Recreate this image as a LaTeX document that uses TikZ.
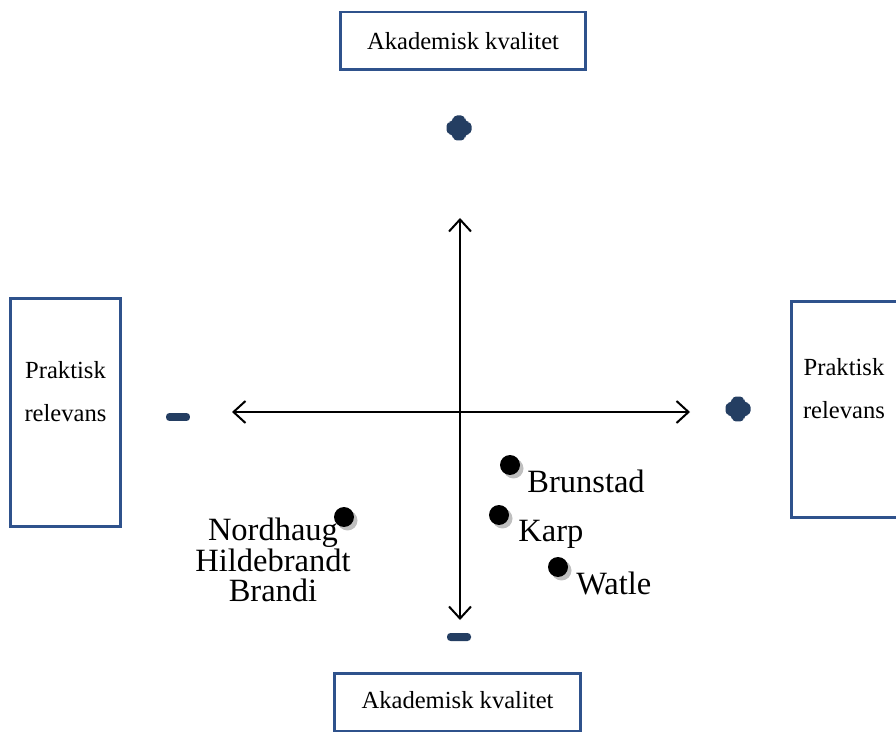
\documentclass[tikz,border=0pt]{standalone}
\usepackage{fontspec}
\setmainfont{Liberation Serif}
\usepackage{tikz}
\usetikzlibrary{arrows.meta, positioning, shadows}

\definecolor{boxblue}{RGB}{47,82,140}
\definecolor{signblue}{RGB}{36,62,98}

\begin{document}
\begin{tikzpicture}[x=0.02cm, y=0.02cm,
    axisbox/.style={rectangle, draw=boxblue, line width=1.7pt, fill=white, inner sep=0pt},
    boxtext/.style={align=center, font=\fontsize{14}{24.4}\selectfont},
    plussign/.style={rectangle, minimum size=0.6cm, inner sep=0pt,
        path picture={
            \fill[signblue, rounded corners=0.08cm]
                ([shift={(-0.12cm,-0.25cm)}]path picture bounding box.center) -- ++(0.24cm,0) -- ++(0,0.13cm)
                -- ++(0.13cm,0) -- ++(0,0.24cm) -- ++(-0.13cm,0) -- ++(0,0.13cm) -- ++(-0.24cm,0)
                -- ++(0,-0.13cm) -- ++(-0.13cm,0) -- ++(0,-0.24cm) -- ++(0.13cm,0) -- cycle;
        }},
    minussign/.style={rectangle, minimum width=0.6cm, minimum height=0.3cm, inner sep=0pt,
        path picture={
            \fill[signblue, rounded corners=0.07cm]
                ([shift={(-0.24cm,-0.08cm)}]path picture bounding box.center) rectangle ++(0.48cm,0.16cm);
        }},
    axis/.style={line width=1.15pt, {Straight Barb[length=2.4mm, width=4.4mm]}-{Straight Barb[length=2.4mm, width=4.4mm]}},
    dot/.style={circle, fill=black, minimum size=0.4cm, inner sep=0pt,
        drop shadow={shadow xshift=0.07cm, shadow yshift=-0.07cm, fill=gray!50, opacity=1}},
    personlabel/.style={font=\fontsize{18.5}{16.6}\selectfont, inner sep=0pt}]

    % Canvas size of the reference
    \useasboundingbox (0,0) rectangle (896,731);
    \clip (0,0) rectangle (896,731);

    % Boxes at the four ends of the axes
    \node[axisbox, minimum width=4.92cm, minimum height=1.16cm] (topbox) at (463,690) {};
    \node[boxtext] (toptext) at (topbox.center) {Akademisk kvalitet};

    \node[axisbox, minimum width=4.94cm, minimum height=1.16cm] (botbox) at (457.5,29) {};
    \node[boxtext] (bottext) at ([yshift=0.04cm]botbox.center) {Akademisk kvalitet};

    \node[axisbox, minimum width=2.22cm, minimum height=4.58cm] (leftbox) at (65.5,318.5) {};
    \node[boxtext] (lefttext) at ([yshift=0.42cm]leftbox.center) {Praktisk\\relevans};

    \node[axisbox, minimum width=2.22cm, minimum height=4.34cm] (rightbox) at (846.5,321.5) {};
    \node[boxtext] (righttext) at ([xshift=-0.05cm, yshift=0.41cm]rightbox.center) {Praktisk\\relevans};

    % Plus and minus signs
    \node[plussign] (plustop) at (459,603) {};
    \node[plussign] (plusright) at (738,322) {};
    \node[minussign] (minusleft) at (178,314) {};
    \node[minussign] (minusbot) at (459,94) {};

    % Axes
    \coordinate (ytop) at (460,513);
    \coordinate (ybot) at (460,111);
    \coordinate (xleft) at (232,319);
    \coordinate (xright) at (690,319);
    \draw[axis] (ybot) -- (ytop);
    \draw[axis] (xleft) -- (xright);

    % Placed persons
    \node[dot] (brunstad) at (510,266) {};
    \node[dot] (karp) at (499,216) {};
    \node[dot] (watle) at (558,164) {};
    \node[dot] (nordhaug) at (344,214) {};

    \node[personlabel, anchor=base west] (brunstadlbl) at (527,239) {Brunstad};
    \node[personlabel, anchor=base west] (karplbl) at (518,190) {Karp};
    \node[personlabel, anchor=base west] (watlelbl) at (576,137) {Watle};
    \node[personlabel, align=center, anchor=base] (nordhauglbl) at (273,130) {Nordhaug\\Hildebrandt\\Brandi};
\end{tikzpicture}
\end{document}
